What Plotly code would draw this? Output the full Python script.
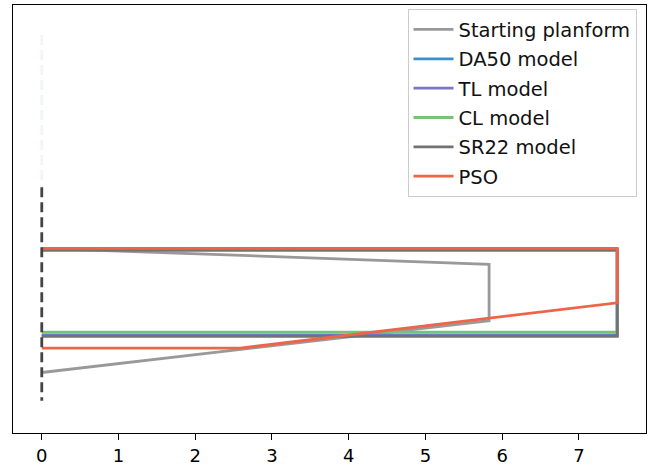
import plotly.graph_objects as go

# ---- data (spanwise x, chordwise y) ----
start_x = [0, 5.83, 5.83, 0]
start_y = [0, -0.21, -0.95, -1.63]

model_names = ["DA50 model", "TL model", "CL model", "SR22 model"]
model_colors = ["#3d8fcc", "#7b76bf", "#76c376", "#737373"]
model_x = [0, 7.5, 7.5, 0]
model_le = [-0.02, -0.02, -0.02, -0.025]
model_te = [-1.137, -1.145, -1.10, -1.157]

pso_x = [0, 7.5, 7.5, 2.59, 0]
pso_y = [0, 0, -0.715, -1.31, -1.31]

root_x = [0, 0]
root_y = [0.8, -2.0]
faint_x = [0, 0]
faint_y = [2.8, 0.8]

xticks = [0, 1, 2, 3, 4, 5, 6, 7]

FONT = "DejaVu Sans"
LW = 2.8

fig = go.Figure()

fig.add_trace(go.Scatter(x=faint_x, y=faint_y, mode="lines", showlegend=False,
                         line=dict(color="rgba(190,205,240,0.22)", width=LW, dash="10px,5px"),
                         hoverinfo="skip"))

fig.add_trace(go.Scatter(x=start_x, y=start_y, mode="lines", name="Starting planform",
                         legendgroup="g0", line=dict(color="#999999", width=LW)))

for i, (n, c, le, te) in enumerate(zip(model_names, model_colors, model_le, model_te)):
    fig.add_trace(go.Scatter(x=model_x, y=[le, le, te, te], mode="lines", name=n,
                             legendgroup="g%d" % (i + 1), line=dict(color=c, width=LW)))

fig.add_trace(go.Scatter(x=pso_x, y=pso_y, mode="lines", name="PSO", legendgroup="g9",
                         line=dict(color="#ee6448", width=LW)))

fig.add_trace(go.Scatter(x=root_x, y=root_y, mode="lines", showlegend=False,
                         line=dict(color="#444444", width=LW, dash="10px,5px"),
                         hoverinfo="skip"))

fig.update_layout(
    width=659, height=470,
    margin=dict(l=13, r=13, t=4, b=35),
    paper_bgcolor="white", plot_bgcolor="white",
    font=dict(family=FONT, size=19, color="black"),
    legend=dict(x=0.985, y=0.99, xanchor="right", yanchor="top",
                bgcolor="rgba(255,255,255,0.85)", bordercolor="#cccccc", borderwidth=1,
                font=dict(family=FONT, size=19.5, color="#111111"),
                itemwidth=40, tracegroupgap=1),
    xaxis=dict(range=[-0.375, 7.875], tickvals=xticks, showgrid=False, zeroline=False,
               showline=True, linecolor="black", linewidth=1.3, mirror=True,
               ticks="outside", ticklen=6, tickwidth=1.3, tickcolor="black",
               tickfont=dict(family=FONT, size=18, color="black")),
    yaxis=dict(range=[-2.424, 3.193], showticklabels=False, ticks="", showgrid=False,
               zeroline=False, showline=True, linecolor="black", linewidth=1.3, mirror=True),
)

fig.write_html("out.html")
